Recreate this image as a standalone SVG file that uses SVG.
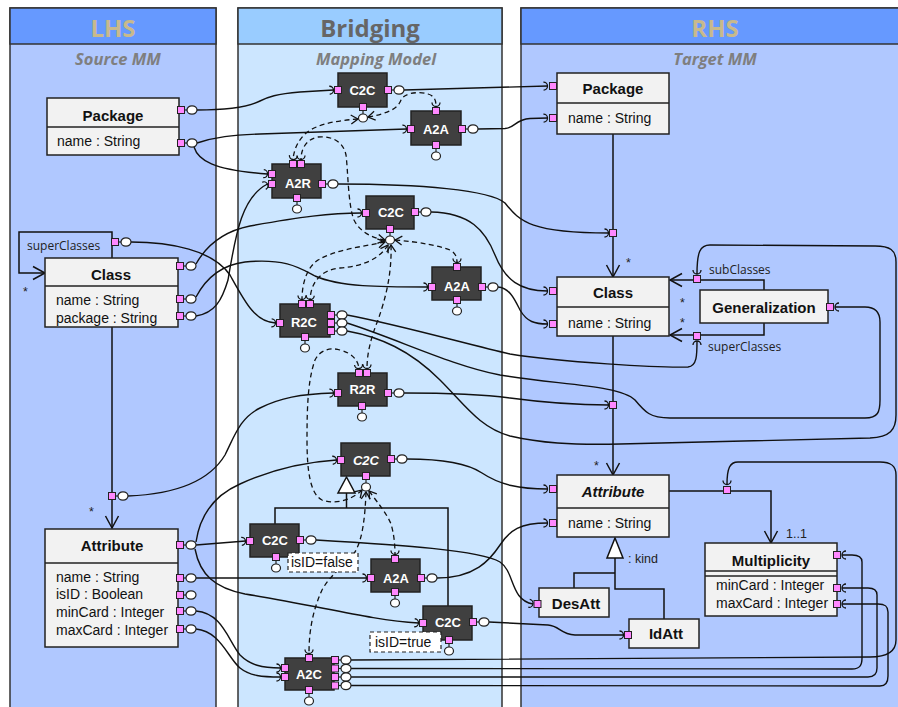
<svg xmlns="http://www.w3.org/2000/svg" xmlns:xlink="http://www.w3.org/1999/xlink" width="898" height="707" viewBox="0 0 898 707">
<style>
.pnl{stroke:#333;stroke-width:1.5}
.ttl{font-family:"Open Sans","Liberation Sans",sans-serif;font-weight:bold;font-size:24px;text-anchor:middle}
.sub{font-family:"Open Sans","Liberation Sans",sans-serif;font-weight:bold;font-style:italic;font-size:16.5px;fill:#7f7f7f;text-anchor:middle}
.cls{fill:#f2f2f2;stroke:#222;stroke-width:1.5}
.nd{fill:#404040;stroke:#222;stroke-width:1.5}
.pt{fill:#ff88ff;stroke:#222;stroke-width:1}
.bl{fill:#fff;stroke:#222;stroke-width:1.2}
.c{fill:none;stroke:#111;stroke-width:1.4;marker-end:url(#sk)}
.d{fill:none;stroke:#111;stroke-width:1.3;stroke-dasharray:5 3.5;marker-start:url(#ar);marker-end:url(#sk)}
.u{fill:none;stroke:#111;stroke-width:1.5}
.ua{fill:none;stroke:#111;stroke-width:1.5;marker-end:url(#oa)}
.tb{font-family:"Liberation Sans",Arial,sans-serif;font-weight:bold;font-size:15px;fill:#111;text-anchor:middle}
.ta{font-family:"Liberation Sans",Arial,sans-serif;font-size:14px;fill:#111}
.nl{font-family:"Liberation Sans",Arial,sans-serif;font-weight:bold;font-size:13px;fill:#fff;text-anchor:middle}
.lb{font-family:"Open Sans","Liberation Sans",sans-serif;font-size:12px;fill:#222}
.la{font-family:"Liberation Sans",Arial,sans-serif;font-size:12.5px;fill:#222}
.cond{fill:#fff;stroke:#222;stroke-width:1.2;stroke-dasharray:4 3}
</style>
<defs>
<marker id="sk" markerUnits="userSpaceOnUse" markerWidth="14" markerHeight="14" viewBox="-7 -7 14 14" refX="0" refY="0" orient="auto"><path d="M-4,-4 A4,4 0 0 1 -4,4" fill="none" stroke="#111" stroke-width="1.3"/></marker>
<marker id="ar" markerUnits="userSpaceOnUse" markerWidth="14" markerHeight="14" viewBox="-10 -7 14 14" refX="0" refY="0" orient="auto-start-reverse"><path d="M-7,-4.5 L0,0 L-7,4.5" fill="none" stroke="#111" stroke-width="1.3"/></marker>
<marker id="oa" markerUnits="userSpaceOnUse" markerWidth="20" markerHeight="20" viewBox="-14 -10 20 20" refX="0" refY="0" orient="auto"><path d="M-12,-6.5 L0,0 L-12,6.5" fill="none" stroke="#111" stroke-width="1.5"/></marker>
<rect id="p" class="pt" x="-3.5" y="-3.5" width="7" height="7"/>
<g id="pbR"><line x1="3.5" y1="0" x2="6" y2="0" stroke="#222" stroke-width="1.2"/><rect class="pt" x="-3.5" y="-3.5" width="7" height="7"/><ellipse class="bl" cx="11" cy="0" rx="5" ry="4.2"/></g>
<g id="pbD"><line x1="0" y1="3.5" x2="0" y2="7" stroke="#222" stroke-width="1.2"/><rect class="pt" x="-3.5" y="-3.5" width="7" height="7"/><ellipse class="bl" cx="0" cy="11" rx="4.5" ry="4"/></g>
</defs>

<rect x="0" y="0" width="898" height="707" fill="#fff"/>
<g id="panel-lhs">
<rect class="pnl" x="10" y="8" width="206" height="720" fill="#b0c8ff"/>
<rect class="pnl" x="10" y="8" width="206" height="36" fill="#6699ff"/>
<text class="ttl" x="113" y="37" fill="#c8b98c">LHS</text>
<text class="sub" x="118" y="65">Source MM</text>
</g>
<g id="panel-bridging">
<rect class="pnl" x="238" y="8" width="264" height="720" fill="#cce6ff"/>
<rect class="pnl" x="238" y="8" width="264" height="36" fill="#99ccff"/>
<text class="ttl" x="370" y="37" fill="#666">Bridging</text>
<text class="sub" x="376" y="65">Mapping Model</text>
</g>
<g id="panel-rhs">
<rect class="pnl" x="521" y="8" width="390" height="720" fill="#b0c8ff"/>
<rect class="pnl" x="521" y="8" width="390" height="36" fill="#6699ff"/>
<text class="ttl" x="715" y="37" fill="#c8b98c">RHS</text>
<text class="sub" x="715" y="65">Target MM</text>
</g>

<g id="uml-edges">
<path class="ua" d="M613,134 L613,277"/>
<path class="ua" d="M613,336 L613,475"/>
<path class="ua" d="M764,290 L764,280 L670,280"/>
<path class="ua" d="M764,323 L764,335 L670,335"/>
<path class="ua" d="M669,491 L771,491 L771,543"/>
<path class="u" d="M615,558 V589 H664 V619 M615,573 H574 V588"/>
<polygon points="615,538 607,558 623,558" fill="#fff" stroke="#111" stroke-width="1.5"/>
<path class="ua" d="M112,258 V232 H19 V273 H45"/>
<path class="ua" d="M112,327 V528"/>
<path class="u" d="M346.5,493 V508 M275,524 V508 H448 V606"/>
<polygon points="346.5,477 338,493 355,493" fill="#fff" stroke="#111" stroke-width="1.5"/>
<text class="la" x="626" y="267">*</text>
<text class="la" x="594" y="470">*</text>
<text class="la" x="680" y="307">*</text>
<text class="la" x="680" y="327">*</text>
<text class="la" x="786" y="538">1..1</text>
<text class="la" x="628" y="563">: kind</text>
<text class="lb" x="709" y="274">subClasses</text>
<text class="lb" x="708" y="351">superClasses</text>
<text class="la" x="23" y="296">*</text>
<text class="la" x="89" y="516">*</text>
<text class="lb" x="27" y="250">superClasses</text>
</g>

<g id="connectors">
<path class="c" d="M197,110 C230,110 248,107 260,101 C268,97 276,94 300,92 L333.5,90"/>
<path class="c" d="M404,90 L547.5,86"/>
<path class="c" d="M197,143 C215,137 232,135 260,134 L406.5,129"/>
<path class="c" d="M194,147 C198,160 212,170 267.5,174"/>
<path class="c" d="M478,129 L505,128.5 C515,128 515,119.5 530,118.5 L547.5,118"/>
<path class="c" d="M338,184 C420,184 490,190 505,203 C520,222 532,233 608.5,233"/>
<path class="c" d="M196,264 C205,248 220,232 250,226 C300,217 330,213 361.5,213"/>
<path class="c" d="M196,297 C205,280 220,265 245,262 C285,258 300,268 315,276 C340,287 380,287 427.5,287"/>
<path class="c" d="M196,316 C215,313 222,300 228,280 C235,240 240,198 267.5,184"/>
<path class="c" d="M131,242 C170,242 213,250 230,275 C245,302 255,322 275.5,323"/>
<path class="c" d="M431,212 C470,213 485,230 495,255 C505,280 520,291 547.5,291"/>
<path class="c" d="M498,287 C510,288 515,300 520,310 C527,322 535,324 547.5,324"/>
<path class="c" d="M347,315 C400,325 470,345 510,354 C560,362 660,368 688,367 C697,366 697,355 697,341"/>
<path class="c" d="M347,323 C400,340 450,365 500,375 C560,385 620,385 635,400 C645,412 650,418 670,418 L865,418 C878,418 880,412 880,400 L880,322 C880,312 875,307 865,307 L835,307"/>
<path class="c" d="M347,331 C380,337 410,350 440,380 C465,405 480,428 510,436 C540,443 570,445 620,444 L870,438 C890,437 896,430 896,415 L896,262 C896,250 890,246 875,246 L710,245 C700,245 697,252 697,274"/>
<path class="c" d="M404,393 C450,393 480,394 510,398 C540,402 570,405 608.5,405"/>
<path class="c" d="M128,496 C180,494 210,480 225,455 C235,435 240,418 260,408 C280,398 300,394 333.5,393"/>
<path class="c" d="M196,542 C200,515 215,495 240,484 C275,468 305,462 336.5,460"/>
<path class="c" d="M196,545 L245.5,541"/>
<path class="c" d="M195,549 C200,575 215,588 245,594 C320,606 370,620 418.5,623"/>
<path class="c" d="M407,459 C450,459 470,465 482,473 C500,485 520,489 547.5,489"/>
<path class="c" d="M316,540 C400,545 480,550 500,562 C515,572 510,600 533,604"/>
<path class="c" d="M196,578 L366.5,578"/>
<path class="c" d="M437,578 C475,578 490,560 500,545 C510,530 520,523 547.5,523"/>
<path class="c" d="M489,622 L548,625 C560,626 560,634 575,635 L623.5,635"/>
<path class="c" d="M196,611 C222,613 228,640 240,655 C250,665 262,668 280.5,668"/>
<path class="c" d="M196,629 C220,631 228,658 240,668 C250,676 262,677 280.5,677"/>
<path class="c" d="M351,660 L870,657 C890,657 896,650 896,640 L896,475 C896,465 890,462 880,462 L738,462 C730,462 727,468 727,484.5"/>
<path class="c" d="M351,668.5 L852,669 C860,669 862,665 862,658 L862,562 C862,557 858,555 852,555 L842,555"/>
<path class="c" d="M351,677 L868,677 C875,677 877,673 877,668 L877,595 C877,590 873,588 868,588 L842,588"/>
<path class="c" d="M351,685.5 L880,686 C886,686 888,682 888,676 L888,612 C888,606 885,604 878,604 L842,604"/>
<path class="d" d="M368,117 C390,113 398,108 401,100 C404,93 418,91 428,94 C435,96 436,101 436,106.5"/>
<path class="d" d="M358,119 C330,121 312,126 303,136 C297,143 294,150 293,159.5"/>
<path class="d" d="M385,240 C372,238 360,232 354,220 C348,205 348,170 346,155 C343,140 330,136 318,137 C307,139 301,148 301,159.5"/>
<path class="d" d="M395,240 C420,242 440,246 450,250 C456,253 457,258 457,262.5"/>
<path class="d" d="M385,242 C360,247 335,250 318,260 C306,268 302,285 302,299.5"/>
<path class="d" d="M388,245 C380,258 365,266 340,268 C320,270 311,283 310,299.5"/>
<path class="d" d="M391,245 C392,275 385,300 378,320 C370,340 367,355 367,368.5"/>
<path class="d" d="M362,490 C352,500 335,505 322,500 C310,494 307,470 307,440 C307,405 308,380 315,360 C320,350 330,347 340,350 C352,353 358,360 359,368.5"/>
<path class="d" d="M369,491 C378,503 387,514 391,524 C394,534 395,545 395,554.5"/>
<path class="d" d="M366,492 C365,520 362,540 355,552 C345,565 330,575 322,590 C313,610 309,630 309,653.5"/>
</g>

<g id="lhs-package">
<rect class="cls" x="47" y="98" width="132" height="57"/>
<line x1="47" y1="127" x2="179" y2="127" stroke="#222" stroke-width="1.5"/>
<text class="tb" x="113" y="121">Package</text>
<text class="ta" x="57" y="146">name : String</text>
<use xlink:href="#pbR" x="181" y="110"/>
<use xlink:href="#pbR" x="181" y="143"/>
</g>
<g id="lhs-class">
<rect class="cls" x="45" y="258" width="133" height="69"/>
<line x1="45" y1="286" x2="178" y2="286" stroke="#222" stroke-width="1.5"/>
<text class="tb" x="111" y="280">Class</text>
<text class="ta" x="56" y="305">name : String</text>
<text class="ta" x="56" y="323">package : String</text>
<use xlink:href="#pbR" x="180" y="266"/>
<use xlink:href="#pbR" x="180" y="299"/>
<use xlink:href="#pbR" x="180" y="316"/>
<use xlink:href="#pbR" x="115" y="242"/>
<use xlink:href="#pbR" x="112" y="496"/>
</g>
<g id="lhs-attribute">
<rect class="cls" x="45" y="529" width="133" height="118"/>
<line x1="45" y1="563" x2="178" y2="563" stroke="#222" stroke-width="1.5"/>
<text class="tb" x="112" y="551">Attribute</text>
<text class="ta" x="56" y="582">name : String</text>
<text class="ta" x="56" y="599">isID : Boolean</text>
<text class="ta" x="56" y="617">minCard : Integer</text>
<text class="ta" x="56" y="635">maxCard : Integer</text>
<use xlink:href="#pbR" x="180" y="545"/>
<use xlink:href="#pbR" x="180" y="578"/>
<use xlink:href="#pbR" x="180" y="595"/>
<use xlink:href="#pbR" x="180" y="611"/>
<use xlink:href="#pbR" x="180" y="629"/>
</g>

<g id="c2c-top">
<rect class="nd" x="338" y="73" width="49" height="34"/>
<text class="nl" x="362.5" y="95">C2C</text>
<use xlink:href="#p" x="338" y="90"/>
<use xlink:href="#pbR" x="388" y="90"/>
<use xlink:href="#pbD" x="363" y="107"/>
</g>
<g id="a2a-top">
<rect class="nd" x="411" y="111" width="50" height="34"/>
<text class="nl" x="436" y="134">A2A</text>
<use xlink:href="#p" x="411" y="129"/>
<use xlink:href="#p" x="436" y="111"/>
<use xlink:href="#pbR" x="462" y="129"/>
<use xlink:href="#pbD" x="436" y="145"/>
</g>
<g id="a2r">
<rect class="nd" x="272" y="164" width="49" height="34"/>
<text class="nl" x="298" y="188">A2R</text>
<use xlink:href="#p" x="272" y="174"/>
<use xlink:href="#p" x="272" y="184"/>
<use xlink:href="#p" x="293" y="164"/>
<use xlink:href="#p" x="301" y="164"/>
<use xlink:href="#pbR" x="322" y="184"/>
<use xlink:href="#pbD" x="297" y="198"/>
</g>
<g id="c2c-class">
<rect class="nd" x="366" y="196" width="48" height="33"/>
<text class="nl" x="391" y="217">C2C</text>
<use xlink:href="#p" x="366" y="213"/>
<use xlink:href="#pbR" x="415" y="212"/>
<use xlink:href="#pbD" x="390" y="229"/>
</g>
<g id="a2a-class">
<rect class="nd" x="432" y="267" width="49" height="33"/>
<text class="nl" x="457" y="291">A2A</text>
<use xlink:href="#p" x="432" y="287"/>
<use xlink:href="#p" x="457" y="267"/>
<use xlink:href="#pbR" x="482" y="287"/>
<use xlink:href="#pbD" x="457" y="300"/>
</g>
<g id="r2c">
<rect class="nd" x="280" y="304" width="50" height="33"/>
<text class="nl" x="304" y="327">R2C</text>
<use xlink:href="#p" x="280" y="323"/>
<use xlink:href="#p" x="302" y="304"/>
<use xlink:href="#p" x="310" y="304"/>
<use xlink:href="#pbR" x="331" y="315"/>
<use xlink:href="#pbR" x="331" y="323"/>
<use xlink:href="#pbR" x="331" y="331"/>
<use xlink:href="#pbD" x="305" y="337"/>
</g>
<g id="r2r">
<rect class="nd" x="338" y="373" width="49" height="33"/>
<text class="nl" x="362.5" y="394">R2R</text>
<use xlink:href="#p" x="338" y="393"/>
<use xlink:href="#p" x="359" y="373"/>
<use xlink:href="#p" x="367" y="373"/>
<use xlink:href="#pbR" x="388" y="393"/>
<use xlink:href="#pbD" x="362" y="406"/>
</g>
<g id="c2c-attribute">
<rect class="nd" x="341" y="443" width="49" height="33"/>
<text class="nl" x="366" y="465" font-style="italic">C2C</text>
<use xlink:href="#p" x="341" y="460"/>
<use xlink:href="#pbR" x="391" y="459"/>
<use xlink:href="#pbD" x="366" y="476"/>
</g>
<g id="c2c-desatt">
<rect class="nd" x="250" y="524" width="49" height="33"/>
<text class="nl" x="275" y="545">C2C</text>
<use xlink:href="#p" x="250" y="541"/>
<use xlink:href="#pbR" x="300" y="540"/>
<use xlink:href="#pbD" x="276" y="557"/>
</g>
<g id="cond-false">
<rect class="cond" x="288" y="553" width="70" height="19"/>
<text class="ta" x="291" y="567" font-size="13.5">isID=false</text>
</g>
<g id="a2a-attribute">
<rect class="nd" x="371" y="559" width="49" height="33"/>
<text class="nl" x="396" y="583">A2A</text>
<use xlink:href="#p" x="371" y="578"/>
<use xlink:href="#p" x="395" y="559"/>
<use xlink:href="#pbR" x="421" y="578"/>
<use xlink:href="#pbD" x="395" y="592"/>
</g>
<g id="c2c-idatt">
<rect class="nd" x="423" y="606" width="49" height="34"/>
<text class="nl" x="448" y="627">C2C</text>
<use xlink:href="#p" x="423" y="623"/>
<use xlink:href="#pbR" x="473" y="622"/>
<use xlink:href="#pbD" x="449" y="640"/>
</g>
<g id="cond-true">
<rect class="cond" x="370" y="632" width="71" height="20"/>
<text class="ta" x="375" y="647" font-size="13.5">isID=true</text>
</g>
<g id="a2c">
<rect class="nd" x="285" y="658" width="49" height="32"/>
<text class="nl" x="309" y="679">A2C</text>
<use xlink:href="#p" x="285" y="668"/>
<use xlink:href="#p" x="285" y="677"/>
<use xlink:href="#p" x="309" y="658"/>
<use xlink:href="#pbR" x="335" y="660"/>
<use xlink:href="#pbR" x="335" y="668.5"/>
<use xlink:href="#pbR" x="335" y="677"/>
<use xlink:href="#pbR" x="335" y="685.5"/>
<use xlink:href="#pbD" x="309" y="690"/>
</g>

<g id="rhs-package">
<rect class="cls" x="557" y="73" width="112" height="61"/>
<line x1="557" y1="103" x2="669" y2="103" stroke="#222" stroke-width="1.5"/>
<text class="tb" x="613" y="94">Package</text>
<text class="ta" x="568" y="123">name : String</text>
<use xlink:href="#p" x="553" y="86"/>
<use xlink:href="#p" x="553" y="118"/>
</g>
<g id="rhs-class">
<rect class="cls" x="557" y="277" width="112" height="59"/>
<line x1="557" y1="307" x2="669" y2="307" stroke="#222" stroke-width="1.5"/>
<text class="tb" x="613" y="298">Class</text>
<text class="ta" x="568" y="328">name : String</text>
<use xlink:href="#p" x="553" y="291"/>
<use xlink:href="#p" x="553" y="324"/>
<use xlink:href="#p" x="613" y="233"/>
<use xlink:href="#p" x="613" y="405"/>
<use xlink:href="#p" x="697" y="279"/>
<use xlink:href="#p" x="697" y="336"/>
</g>
<g id="rhs-generalization">
<rect class="cls" x="700" y="290" width="128" height="33"/>
<text class="tb" x="764" y="313" font-size="15.5">Generalization</text>
<use xlink:href="#p" x="830" y="307"/>
</g>
<g id="rhs-attribute">
<rect class="cls" x="557" y="475" width="112" height="62"/>
<line x1="557" y1="508" x2="669" y2="508" stroke="#222" stroke-width="1.5"/>
<text class="tb" x="613" y="497" font-style="italic">Attribute</text>
<text class="ta" x="568" y="528">name : String</text>
<use xlink:href="#p" x="553" y="489"/>
<use xlink:href="#p" x="553" y="523"/>
<use xlink:href="#p" x="727" y="490"/>
</g>
<g id="rhs-multiplicity">
<rect class="cls" x="705" y="543" width="132" height="73"/>
<line x1="705" y1="571" x2="837" y2="571" stroke="#222" stroke-width="1.5"/>
<line x1="705" y1="576" x2="837" y2="576" stroke="#222" stroke-width="1.5"/>
<text class="tb" x="771" y="566">Multiplicity</text>
<text class="ta" x="716" y="590">minCard : Integer</text>
<text class="ta" x="716" y="608">maxCard : Integer</text>
<use xlink:href="#p" x="837" y="555"/>
<use xlink:href="#p" x="837" y="588"/>
<use xlink:href="#p" x="837" y="604"/>
</g>
<g id="rhs-desatt">
<rect class="cls" x="539" y="588" width="70" height="29"/>
<text class="tb" x="576" y="609">DesAtt</text>
<use xlink:href="#p" x="537.5" y="604"/>
</g>
<g id="rhs-idatt">
<rect class="cls" x="629" y="619" width="70" height="29"/>
<text class="tb" x="666" y="639">IdAtt</text>
<use xlink:href="#p" x="628" y="635"/>
</g>
</svg>
